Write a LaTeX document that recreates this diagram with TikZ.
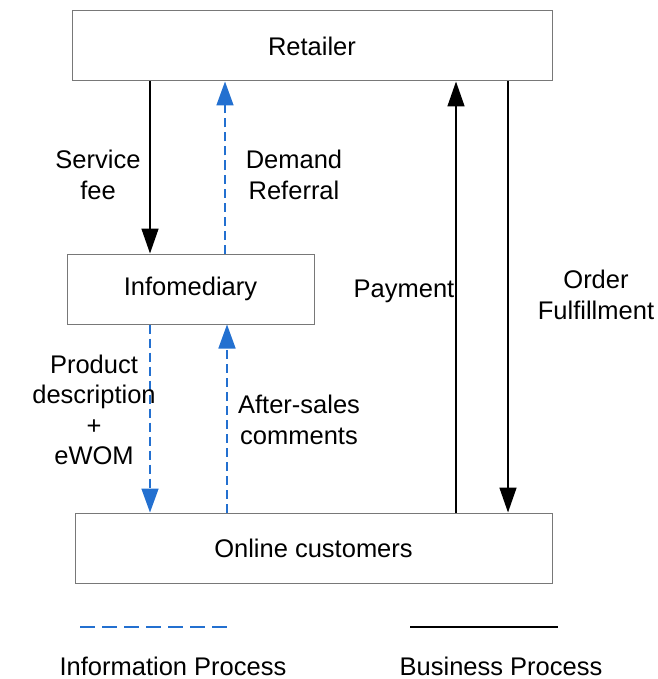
\documentclass[tikz,border=0pt]{standalone}
\usepackage{fontspec}
\setmainfont{Liberation Sans}
\usetikzlibrary{arrows.meta}
\definecolor{infoblue}{RGB}{35,112,208}
\definecolor{boxgray}{RGB}{120,120,120}
\tikzset{
  box/.style={draw=boxgray, line width=1pt, minimum height=70pt, inner sep=0pt, font=\fontsize{25.5}{30.5}\selectfont},
  lbl/.style={align=center, inner sep=0pt, font=\fontsize{25.5}{30.5}\selectfont},
  biz/.style={line width=1.6pt, black, -{Triangle[length=25pt,width=17pt]}},
  info/.style={line width=1.6pt, infoblue, dash pattern=on 9pt off 5pt, -{Triangle[length=24pt,width=17pt]}},
}
\begin{document}
\begin{tikzpicture}[x=1pt,y=-1pt]
\useasboundingbox (0,0) rectangle (657,679);
\node[box, minimum width=480pt] (ret) at (312,46) {Retailer};
\node[box, minimum width=247pt] (inf) at (190.5,289) {Infomediary};
\node[box, minimum width=477pt] (cust) at (313.5,548) {Online customers};

\coordinate (xa) at (150,0);
\coordinate (xb) at (225,0);
\coordinate (xc) at (227,0);
\coordinate (xp) at (456,0);
\coordinate (xo) at (508,0);

\draw[biz] (ret.south -| xa) -- (inf.north -| xa);
\draw[info] (inf.north -| xb) -- (ret.south -| xb);
\draw[info] (inf.south -| xa) -- (cust.north -| xa);
\draw[info] (cust.north -| xc) -- (inf.south -| xc);
\draw[biz] (cust.north -| xp) -- (ret.south -| xp);
\draw[biz] (ret.south -| xo) -- (cust.north -| xo);

\node[lbl] (sf) at (98,175) {Service\\fee};
\node[lbl] (dr) at (294,175) {Demand\\Referral};
\node[lbl] (pd) at (94,410) {Product\\description\\+\\eWOM};
\node[lbl] (as) at (299,420) {After-sales\\comments};
\node[lbl] (pay) at (404,291) {Payment};
\node[lbl] (of) at (596,295) {Order\\Fulfillment};

\coordinate (l1a) at (80,627);
\coordinate (l1b) at (230,627);
\coordinate (l2a) at (410,627);
\coordinate (l2b) at (558,627);
\draw[infoblue, line width=1.6pt, dash pattern=on 15pt off 7pt] (l1a) -- (l1b);
\draw[black, line width=1.6pt] (l2a) -- (l2b);
\node[lbl] (li) at (173,666) {Information Process};
\node[lbl] (lb) at (501,666) {Business Process};
\end{tikzpicture}
\end{document}
